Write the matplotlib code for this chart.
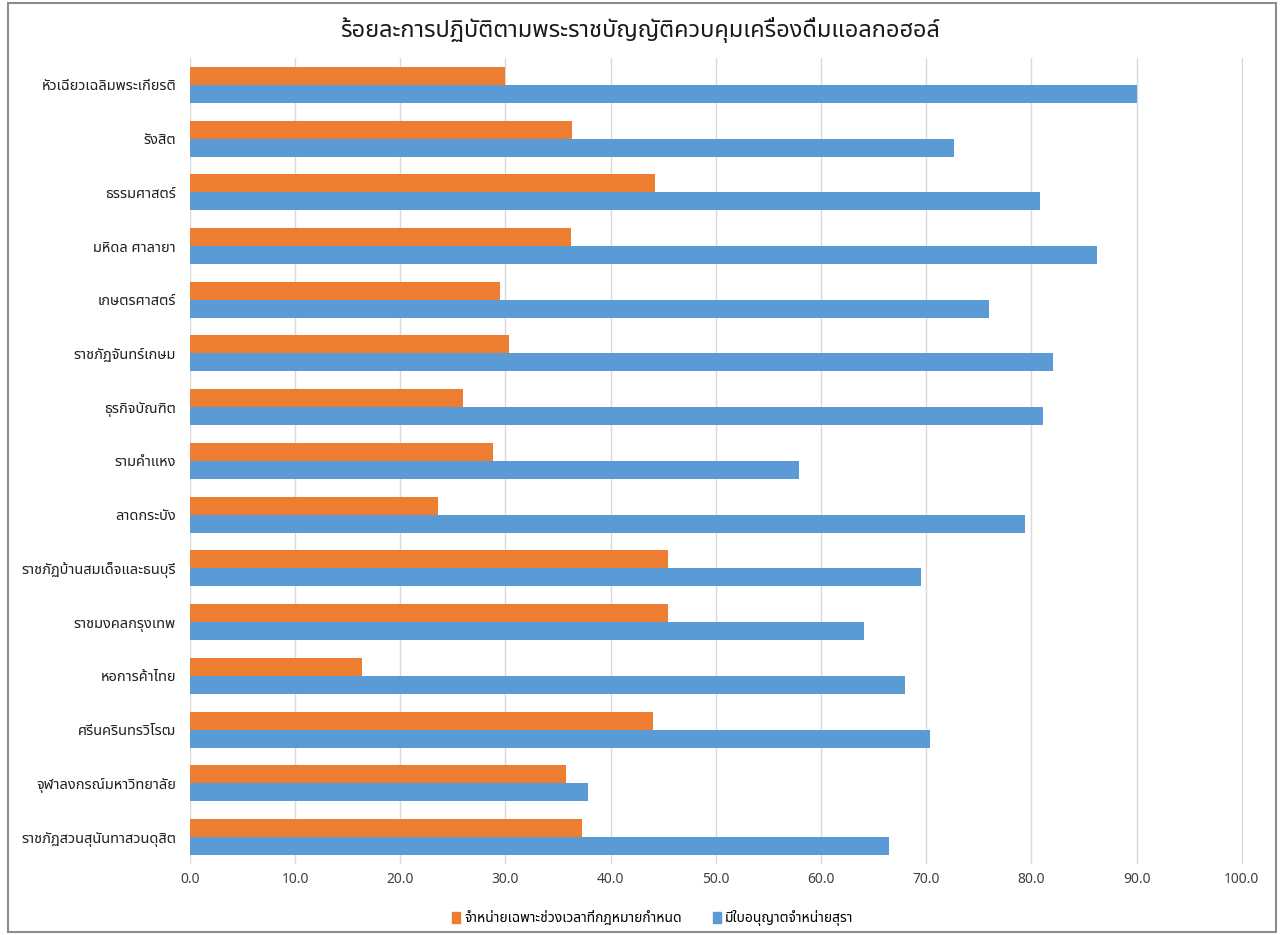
import matplotlib
matplotlib.use("Agg")
import matplotlib.pyplot as plt
import numpy as np
from matplotlib import font_manager
from matplotlib.ft2font import FT2Font
from matplotlib.patches import Rectangle, Patch

# ---------------------------------------------------------------- data
universities = [
    "หัวเฉียวเฉลิมพระเกียรติ",
    "รังสิต",
    "ธรรมศาสตร์",
    "มหิดล ศาลายา",
    "เกษตรศาสตร์",
    "ราชภัฏจันทร์เกษม",
    "ธุรกิจบัณฑิต",
    "รามคำแหง",
    "ลาดกระบัง",
    "ราชภัฏบ้านสมเด็จและธนบุรี",
    "ราชมงคลกรุงเทพ",
    "หอการค้าไทย",
    "ศรีนครินทรวิโรฒ",
    "จุฬาลงกรณ์มหาวิทยาลัย",
    "ราชภัฏสวนสุนันทาสวนดุสิต",
]
sell_in_legal_hours = [30.0, 36.3, 44.2, 36.2, 29.5, 30.3, 26.0, 28.8, 23.6, 45.5, 45.5, 16.4, 44.0, 35.8, 37.3]
has_liquor_licence = [90.0, 72.6, 80.8, 86.2, 76.0, 82.1, 81.1, 57.9, 79.4, 69.5, 64.1, 68.0, 70.4, 37.8, 66.5]
series_names = ["จำหน่ายเฉพาะช่วงเวลาที่กฎหมายกำหนด", "มีใบอนุญาตจำหน่ายสุรา"]
chart_title = "ร้อยละการปฏิบัติตามพระราชบัญญัติควบคุมเครื่องดื่มแอลกอฮอล์"
x_ticks = [0, 10, 20, 30, 40, 50, 60, 70, 80, 90, 100]


# ---------------------------------------------------------------- font with Thai glyphs
def find_thai_family():
    preferred = ["Noto Sans Thai", "Noto Sans Thai Looped", "Loma", "Garuda", "Tlwg Typo", "Norasi"]
    found = []
    for f in font_manager.fontManager.ttflist:
        try:
            if 0x0E01 in FT2Font(f.fname).get_charmap():
                found.append(f.name)
        except Exception:
            pass
    for name in preferred:
        if name in found:
            return name
    return found[0] if found else None


thai = find_thai_family()
plt.rcParams["font.family"] = ([thai] if thai else []) + ["DejaVu Sans"]

ORANGE = "#ED7D31"
BLUE = "#5B9BD5"
TEXT = "#404040"

# ---------------------------------------------------------------- plot
fig = plt.figure(figsize=(12.8, 9.35), dpi=100)
ax = fig.add_axes([0.1484, 0.076, 0.8225, 0.862])

y = np.arange(len(universities))
h = 0.335
ax.barh(y - h / 2, sell_in_legal_hours, height=h, color=ORANGE, label=series_names[0], zorder=3)
ax.barh(y + h / 2, has_liquor_licence, height=h, color=BLUE, label=series_names[1], zorder=3)

ax.set_xlim(0, 100.1)
ax.set_ylim(len(universities) - 0.5, -0.5)
ax.set_xticks(x_ticks)
ax.set_xticklabels([f"{v:.1f}" for v in x_ticks], fontsize=10, color=TEXT)
ax.set_yticks(y)
ax.set_yticklabels(universities, fontsize=10.5, color="#1f1f1f", fontweight="medium")
ax.tick_params(axis="both", length=0)
ax.tick_params(axis="y", pad=10)
ax.tick_params(axis="x", pad=6)
ax.grid(axis="x", color="#D9D9D9", linewidth=1, zorder=0)
for s in ax.spines.values():
    s.set_visible(False)

fig.text(0.5, 0.968, chart_title, ha="center", va="center", fontsize=17,
         fontweight="semibold", color="#1a1a1a")

handles = [Patch(color=ORANGE), Patch(color=BLUE)]
fig.legend(handles, series_names, loc="center", bbox_to_anchor=(0.51, 0.018), ncol=2,
           frameon=False, fontsize=10, handlelength=0.6, handleheight=0.9, handletextpad=0.3,
           columnspacing=2.2)

# chart border
fig.patches.append(Rectangle((0.006, 0.003), 0.991, 0.994, transform=fig.transFigure,
                             fill=False, edgecolor="#8c8c8c", linewidth=1.5))

fig.savefig("out.png", dpi=100)
